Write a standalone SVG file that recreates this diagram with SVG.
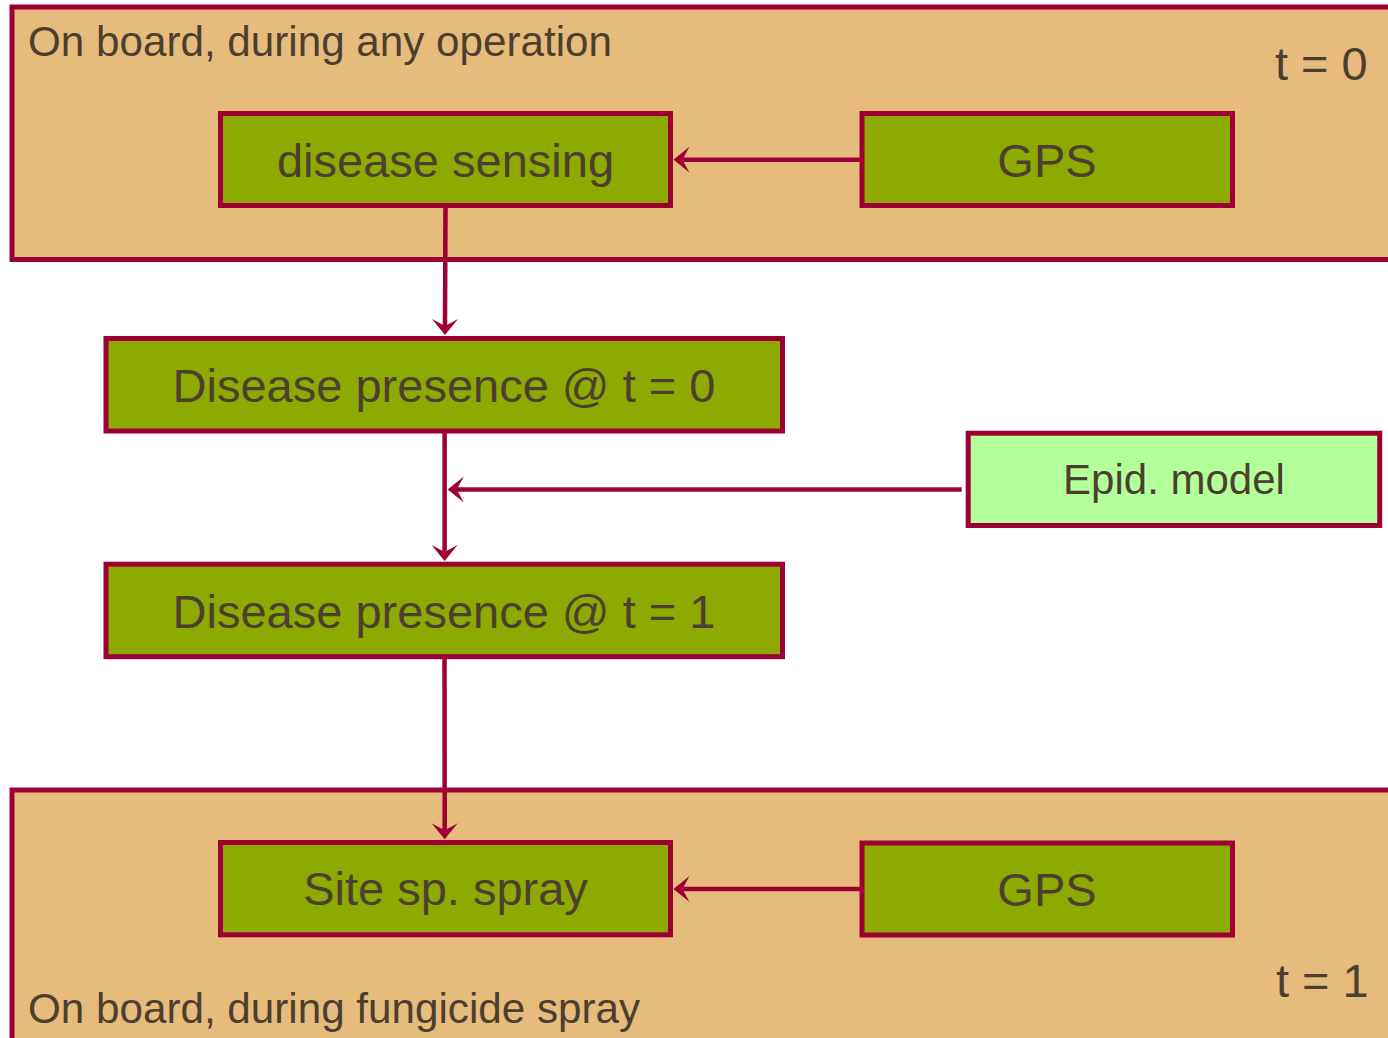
<svg xmlns="http://www.w3.org/2000/svg" width="1388" height="1038" viewBox="0 0 1388 1038">
  <style>
    .zone { fill: #E5BC7B; stroke: #9E0035; stroke-width: 5; }
    .node { fill: #8CAA00; stroke: #9E0035; stroke-width: 5; }
    .model { fill: #B3FF99; stroke: #9E0035; stroke-width: 5; }
    .label { font-family: "Liberation Sans", Arial, sans-serif; fill: #4D3F30; }
    .title { font-size: 42.2px; }
    .big { font-size: 47px; text-anchor: middle; }
    .mid { font-size: 42px; text-anchor: middle; }
    .tlabel { font-size: 47px; }
    .link { fill: none; stroke: #9E0035; stroke-width: 4.5; marker-end: url(#head); }
  </style>
  <defs>
    <marker id="head" viewBox="0 0 16 26" refX="7" refY="13" markerWidth="16" markerHeight="26" markerUnits="userSpaceOnUse" orient="auto">
      <path d="M16,13 L0,0 L7,13 L0,26 Z" fill="#9E0035"/>
    </marker>
  </defs>

  <rect width="1388" height="1038" fill="#FFFFFF"/>

  <!-- on-board contexts -->
  <g id="zone-any-operation">
    <rect class="zone" x="12" y="7" width="1400" height="252.5"/>
    <text class="label title" x="28" y="56">On board, during any operation</text>
    <text class="label tlabel" x="1275" y="80">t = 0</text>
  </g>
  <g id="zone-fungicide-spray">
    <rect class="zone" x="12" y="790" width="1400" height="270"/>
    <text class="label title" x="28" y="1023">On board, during fungicide spray</text>
    <text class="label tlabel" x="1276" y="997">t = 1</text>
  </g>

  <!-- nodes -->
  <g id="disease-sensing">
    <rect class="node" x="220.5" y="113.5" width="450" height="92"/>
    <text class="label big" x="445.5" y="177">disease sensing</text>
  </g>
  <g id="gps-top">
    <rect class="node" x="862" y="113.5" width="370.5" height="92"/>
    <text class="label big" x="1047" y="177">GPS</text>
  </g>
  <g id="presence-t0">
    <rect class="node" x="106" y="338.5" width="676.5" height="92.5"/>
    <text class="label big" x="444" y="401.5">Disease presence @ t = 0</text>
  </g>
  <g id="epid-model">
    <rect class="model" x="968.2" y="433.2" width="411.5" height="92.3"/>
    <text class="label mid" x="1174" y="494">Epid. model</text>
  </g>
  <g id="presence-t1">
    <rect class="node" x="106" y="564.2" width="676.5" height="92.5"/>
    <text class="label big" x="444" y="627.5">Disease presence @ t = 1</text>
  </g>
  <g id="site-spray">
    <rect class="node" x="220.5" y="842.5" width="450" height="92.3"/>
    <text class="label big" x="445.5" y="905">Site sp. spray</text>
  </g>
  <g id="gps-bottom">
    <rect class="node" x="862" y="843" width="370.5" height="92"/>
    <text class="label big" x="1047" y="906">GPS</text>
  </g>

  <!-- connectors -->
  <g id="connectors">
    <line class="link" x1="862" y1="159.7" x2="682.5" y2="159.7"/>
    <line class="link" x1="445.5" y1="206" x2="445" y2="326"/>
    <line class="link" x1="444.6" y1="431" x2="444.6" y2="552"/>
    <line class="link" x1="961.7" y1="489.5" x2="456.8" y2="489.5"/>
    <line class="link" x1="444.5" y1="657" x2="444.7" y2="830.3"/>
    <line class="link" x1="862" y1="889" x2="682.5" y2="889"/>
  </g>
</svg>
